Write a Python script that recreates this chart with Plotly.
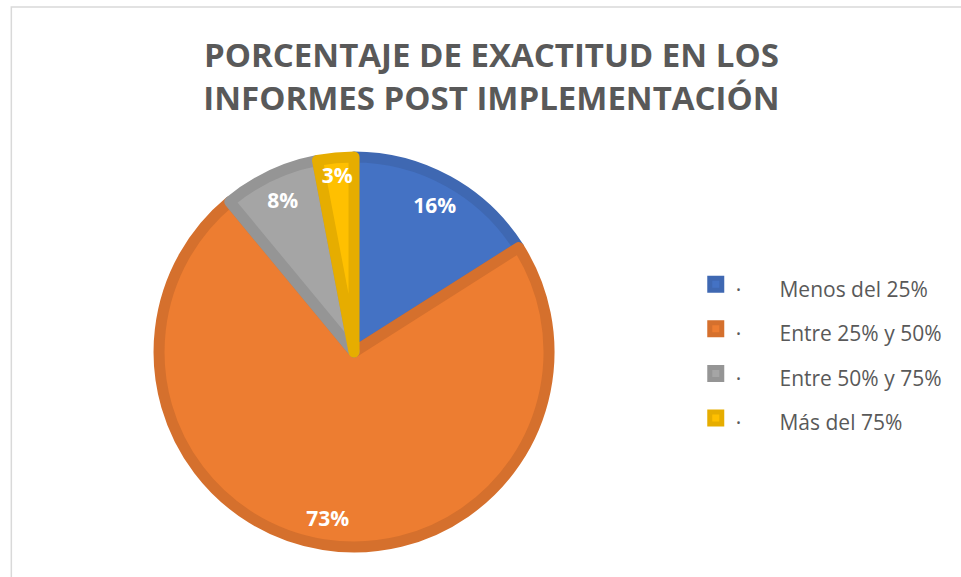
import plotly.graph_objects as go

categories = ["Menos del 25%", "Entre 25% y 50%", "Entre 50% y 75%", "Más del 75%"]
values = [16, 73, 8, 3]
fill_colors = ["#4472C4", "#ED7D31", "#A5A5A5", "#FFC000"]
line_colors = ["#3F68B2", "#D5702D", "#959595", "#E6AD00"]

NB = "\u00a0"
legend_labels = [f'<span style="font-size:21px">·{NB*7}{c}</span>' for c in categories]

pie_domain = dict(x=[0.1655, 0.5713], y=[0.052, 0.7279])

fig = go.Figure()
# slices
fig.add_trace(go.Pie(
    labels=legend_labels,
    values=values,
    sort=False,
    direction="clockwise",
    rotation=0,
    marker=dict(colors=fill_colors, line=dict(color=line_colors, width=11)),
    textinfo="none",
    domain=pie_domain,
    hoverinfo="label+percent",
))
# data labels (ring so labels sit near the rim, as in the original)
fig.add_trace(go.Pie(
    labels=categories,
    values=values,
    sort=False,
    direction="clockwise",
    rotation=0,
    hole=0.72,
    marker=dict(colors=["rgba(0,0,0,0)"] * 4, line=dict(width=0)),
    textinfo="percent",
    textposition="inside",
    insidetextorientation="horizontal",
    textfont=dict(family="Open Sans", size=21, color="white", weight="bold"),
    domain=pie_domain,
    showlegend=False,
    hoverinfo="skip",
))

fig.update_layout(
    width=961, height=577,
    margin=dict(l=0, r=0, t=0, b=0),
    paper_bgcolor="white",
    plot_bgcolor="white",
    uniformtext=dict(minsize=21, mode="show"),
    title=dict(
        text="<b>PORCENTAJE DE EXACTITUD EN LOS<br>INFORMES POST IMPLEMENTACIÓN</b>",
        x=0.5114, xanchor="center", y=0.884, yanchor="middle",
        font=dict(family="Open Sans", size=33, color="#595959"),
    ),
    legend=dict(
        x=0.724, xanchor="left", y=0.391, yanchor="middle",
        font=dict(family="Open Sans", size=32, color="#595959"),
        bgcolor="rgba(0,0,0,0)",
    ),
    showlegend=True,
    shapes=[dict(type="rect", xref="paper", yref="paper",
                 x0=0.0118, x1=1.05, y0=-0.05, y1=0.988,
                 line=dict(color="#D9D9D9", width=1.5), fillcolor="rgba(0,0,0,0)")],
)

fig.write_html("out.html", config={"displayModeBar": False},
               post_script="document.body.style.margin='0';")
